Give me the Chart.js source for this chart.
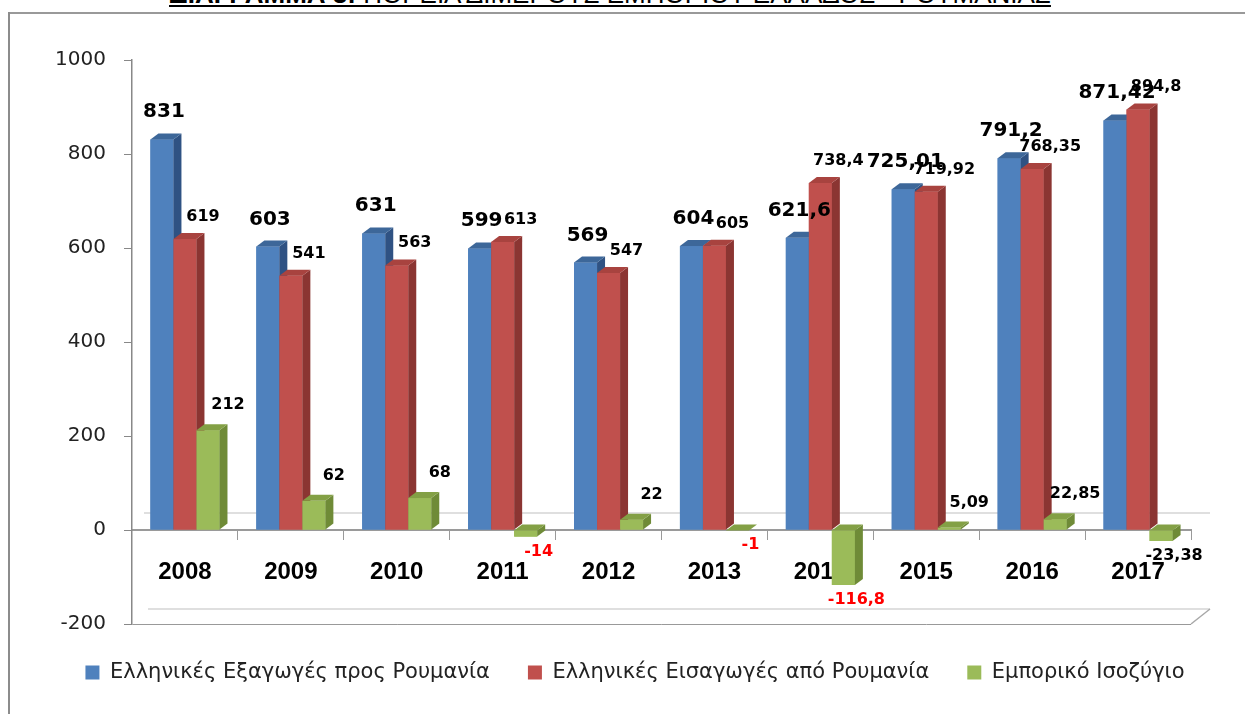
<!DOCTYPE html>
<html>
<head>
<meta charset="utf-8">
<script src="https://cdn.jsdelivr.net/npm/chart.js@4.4.1/dist/chart.umd.min.js"></script>
<style>
  html, body { margin: 0; padding: 0; background: #fff; overflow: hidden; }
  #wrap { position: relative; width: 1245px; height: 714px; overflow: hidden; }
  #title { position: absolute; top: -19px; left: 0; width: 1220px; text-align: center; white-space: nowrap;
           font: 26px/26px 'Liberation Sans', Arial, sans-serif; color: #000; text-decoration: underline; }
  #title b { font-weight: bold; }
  #frameTop { position: absolute; left: 9px; top: 12px; width: 1236px; height: 2px; background: #999; }
  #frameLeft { position: absolute; left: 8px; top: 12px; width: 2px; height: 702px; background: #8c8c8c; }
  canvas { position: absolute; left: 0; top: 0; }
</style>
</head>
<body>
<div id="wrap">
  <div id="title"><b>ΔΙΑΓΡΑΜΜΑ 3:</b> ΠΟΡΕΙΑ ΔΙΜΕΡΟΥΣ ΕΜΠΟΡΙΟΥ ΕΛΛΑΔΟΣ - ΡΟΥΜΑΝΙΑΣ</div>
  <div id="frameTop"></div>
  <div id="frameLeft"></div>
  <canvas id="chart" width="1245" height="714"></canvas>
</div>
<script>
//chart data
const years = ['2008', '2009', '2010', '2011', '2012', '2013', '2014', '2015', '2016', '2017'];
const exportsToRomania = [831, 603, 631, 599, 569, 604, 621.6, 725.01, 791.2, 871.42];
const importsFromRomania = [619, 541, 563, 613, 547, 605, 738.4, 719.92, 768.35, 894.8];
const tradeBalance = [212, 62, 68, -14, 22, -1, -116.8, 5.09, 22.85, -23.38];
const seriesNames = ['Ελληνικές Εξαγωγές προς Ρουμανία', 'Ελληνικές Εισαγωγές από Ρουμανία', 'Εμπορικό Ισοζύγιο'];
const yTicks = [-200, 0, 200, 400, 600, 800, 1000];

//colours for the front, side and top faces of the fake 3d bars
const frontColors = ['#4F81BD', '#C0504D', '#9BBB59'];
const sideColors = ['#2F5283', '#8B3532', '#6F8B37'];
const topColors = ['#3D6799', '#A8433F', '#83A045'];
const balanceLabelColors = ['#000', '#000', '#000', '#f00', '#000', '#f00', '#f00', '#000', '#000', '#000'];

const DX = 8, DY = 6; //depth of the 3d effect
const labelFont = "'DejaVu Sans', Verdana, sans-serif";

//greek style decimals
function fmt(v) {
    return String(v).replace('.', ',');
}

function poly(ctx, pts) {
    ctx.beginPath();
    ctx.moveTo(pts[0][0], pts[0][1]);
    pts.slice(1).forEach(p => ctx.lineTo(p[0], p[1]));
    ctx.closePath();
    ctx.fill();
}

function line(ctx, x1, y1, x2, y2) {
    ctx.beginPath();
    ctx.moveTo(x1, y1);
    ctx.lineTo(x2, y2);
    ctx.stroke();
}

//floor lines behind the bars
const floorPlugin = {
    id: 'floor',
    beforeDatasetsDraw(chart) {
        const { ctx, chartArea: a, scales: { y } } = chart;
        const zero = y.getPixelForValue(0);
        const bottom = y.getPixelForValue(-200);
        ctx.save();
        ctx.lineWidth = 1.5;
        ctx.strokeStyle = '#d4d4d4';
        line(ctx, a.left + 12, zero - 17, a.right + 19, zero - 17);
        line(ctx, a.left + 16, bottom - 15, a.right + 19, bottom - 15);
        ctx.strokeStyle = '#a8a8a8';
        line(ctx, a.right + 19, bottom - 15, a.right, bottom);
        ctx.restore();
    }
};

//repaints each bar with a side and a top face, dataset by dataset so the overlap is right
const bars3dPlugin = {
    id: 'bars3d',
    afterDatasetsDraw(chart) {
        const ctx = chart.ctx;
        ctx.save();
        chart.data.datasets.forEach((ds, d) => {
            chart.getDatasetMeta(d).data.forEach(bar => {
                const l = bar.x - bar.width / 2, r = bar.x + bar.width / 2;
                const t = Math.min(bar.y, bar.base), b = Math.max(bar.y, bar.base);
                ctx.fillStyle = frontColors[d];
                ctx.fillRect(l, t, r - l, b - t);
                ctx.fillStyle = sideColors[d];
                poly(ctx, [[r, t], [r + DX, t - DY], [r + DX, b - DY], [r, b]]);
                ctx.fillStyle = topColors[d];
                poly(ctx, [[l, t], [l + DX, t - DY], [r + DX, t - DY], [r, t]]);
            });
        });
        ctx.restore();
    }
};

//value labels above / below the bars
const labelsPlugin = {
    id: 'valueLabels',
    afterDraw(chart) {
        const ctx = chart.ctx;
        ctx.save();
        ctx.textAlign = 'center';
        ctx.textBaseline = 'alphabetic';
        chart.data.datasets.forEach((ds, d) => {
            chart.getDatasetMeta(d).data.forEach((bar, i) => {
                const v = ds.data[i];
                let x, y;
                ctx.fillStyle = '#000';
                if (d === 0) {
                    ctx.font = 'bold 20px ' + labelFont;
                    x = bar.x + 2; y = bar.y - 22;
                } else if (d === 1) {
                    ctx.font = 'bold 16px ' + labelFont;
                    x = bar.x + 18; y = bar.y - 18;
                } else {
                    ctx.font = 'bold 16px ' + labelFont;
                    ctx.fillStyle = balanceLabelColors[i];
                    if (v >= 0) { x = bar.x + 20; y = bar.y - 21; }
                    else { x = bar.x + 13; y = bar.y + 19; }
                }
                ctx.fillText(fmt(v), x, y);
            });
        });
        ctx.restore();
    }
};

new Chart(document.getElementById('chart'), {
    type: 'bar',
    data: {
        labels: years,
        datasets: [
            { label: seriesNames[0], data: exportsToRomania, backgroundColor: frontColors[0] },
            { label: seriesNames[1], data: importsFromRomania, backgroundColor: frontColors[1] },
            { label: seriesNames[2], data: tradeBalance, backgroundColor: frontColors[2] }
        ]
    },
    options: {
        responsive: false,
        animation: false,
        datasets: {
            bar: { categoryPercentage: 0.652, barPercentage: 1, borderWidth: 0 }
        },
        layout: { padding: { top: 60, left: 25, right: 0, bottom: 21 } },
        plugins: {
            tooltip: { enabled: false },
            legend: {
                position: 'bottom',
                labels: {
                    boxWidth: 14,
                    boxHeight: 14,
                    padding: 38,
                    color: '#222',
                    font: { family: labelFont, size: 21 }
                }
            }
        },
        scales: {
            x: {
                position: { y: 0 },
                offset: true,
                grid: { drawOnChartArea: false, offset: true, tickLength: 9, color: '#9a9a9a' },
                border: { color: '#9a9a9a', width: 2 },
                ticks: {
                    color: '#000',
                    padding: 19,
                    font: { family: "'Liberation Sans', Arial, sans-serif", size: 24, weight: 'bold' }
                }
            },
            y: {
                min: -200,
                max: 1000,
                afterBuildTicks: s => { s.ticks = yTicks.map(v => ({ value: v })); },
                afterFit: s => { s.width = 107; },
                grid: {
                    tickLength: 8,
                    tickColor: '#888',
                    color: c => c.tick.value === -200 ? '#999' : 'rgba(0,0,0,0)'
                },
                border: { color: '#888', width: 1.5 },
                ticks: {
                    color: '#222',
                    padding: 18,
                    font: { family: labelFont, size: 20 },
                    callback: v => String(v)
                }
            },
            y2: {
                position: 'right',
                afterFit: s => { s.width = 54; },
                grid: { display: false },
                border: { display: false },
                ticks: { display: false }
            }
        }
    },
    plugins: [floorPlugin, bars3dPlugin, labelsPlugin]
});
</script>
</body>
</html>
